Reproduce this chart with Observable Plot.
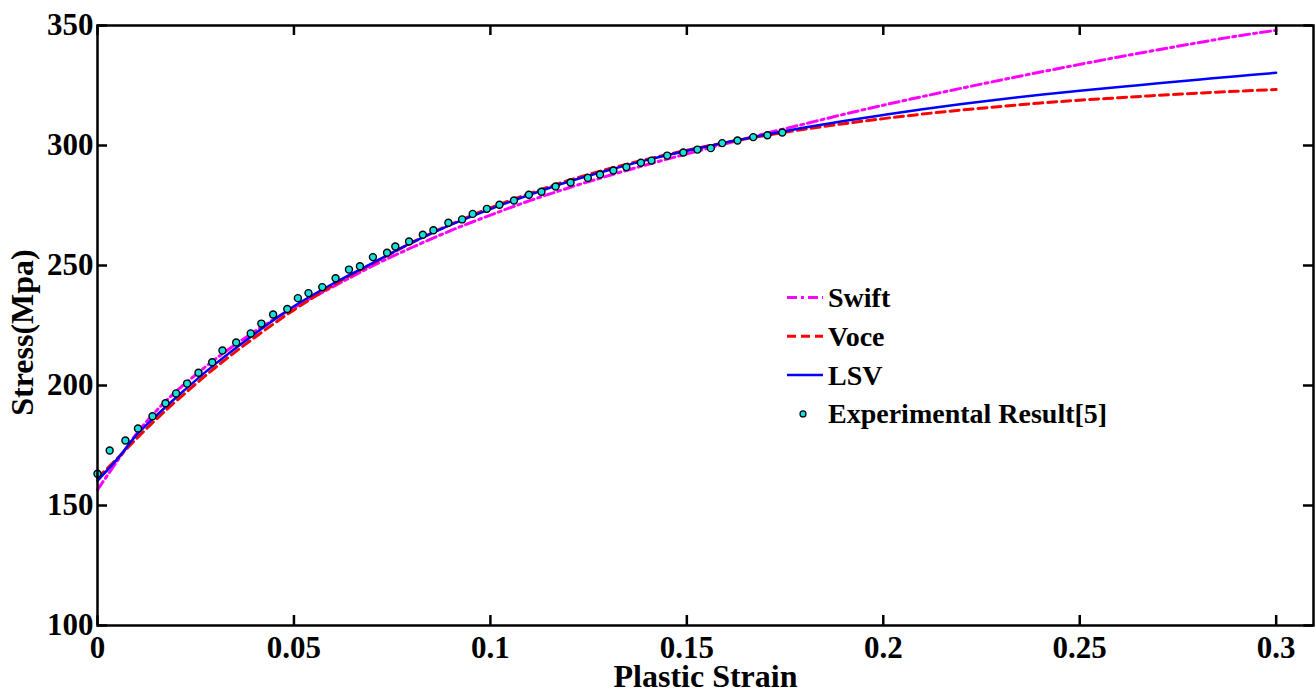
<!DOCTYPE html>
<html><head><meta charset="utf-8">
<script src="https://cdn.jsdelivr.net/npm/d3@7"></script>
<script src="https://cdn.jsdelivr.net/npm/@observablehq/plot@0.6"></script>
<style>
body{margin:0;background:#fff;}
#wrap{position:relative;width:1316px;height:691px;overflow:hidden;}
</style></head><body><div id="wrap"></div>
<script>
// ---- data ----
const curveStrain = [0, 0.005, 0.01, 0.015, 0.02, 0.03, 0.04, 0.05, 0.06, 0.07, 0.08, 0.09, 0.1, 0.11, 0.12, 0.13, 0.14, 0.15, 0.16, 0.17, 0.18, 0.19, 0.2, 0.21, 0.22, 0.23, 0.24, 0.25, 0.26, 0.27, 0.28, 0.29, 0.3];
const swiftStress = [156.5, 168.5, 180, 189.5, 197.5, 211, 222.5, 232.5, 241.2, 249.8, 257.5, 264.6, 271, 277, 282.4, 287.4, 292.1, 296.5, 300.8, 305, 309, 313, 316.8, 320.4, 323.9, 327.3, 330.6, 333.8, 336.9, 339.9, 342.8, 345.6, 348];
const voceStress = [161.5, 169.5, 178, 186, 193.5, 207.5, 220, 231.5, 241.8, 250.8, 259.5, 267.2, 274, 280, 285.5, 290.2, 294.3, 298, 301.3, 304.2, 306.8, 309.1, 311.2, 313.1, 314.8, 316.3, 317.7, 318.9, 319.9, 320.9, 321.8, 322.6, 323.3];
const lsvStress = [160.3, 169.3, 179.5, 187.5, 195, 209, 221.5, 233, 242.5, 251, 259.5, 267, 273.5, 279.5, 285, 289.7, 294, 297.8, 301.3, 304.5, 307.5, 310.2, 312.7, 315.1, 317.3, 319.3, 321.1, 322.8, 324.4, 325.9, 327.4, 328.9, 330.3];
const expStrain = [0, 0.0031, 0.0071, 0.0103, 0.014, 0.0173, 0.02, 0.0228, 0.0257, 0.0292, 0.0318, 0.0353, 0.039, 0.0417, 0.0447, 0.0483, 0.051, 0.0537, 0.0572, 0.0606, 0.064, 0.0668, 0.0701, 0.0737, 0.0758, 0.0793, 0.0828, 0.0855, 0.0893, 0.0928, 0.0955, 0.0991, 0.1023, 0.106, 0.1098, 0.113, 0.1166, 0.1204, 0.1248, 0.1279, 0.1313, 0.1346, 0.1383, 0.141, 0.145, 0.1491, 0.1527, 0.1561, 0.159, 0.1629, 0.1669, 0.1705, 0.1743];
const expStress = [163.2, 172.9, 177.1, 182.1, 187.2, 192.6, 196.7, 200.8, 205.3, 209.7, 214.6, 217.9, 221.7, 225.8, 229.6, 231.9, 236.4, 238.5, 241, 244.7, 248.3, 249.7, 253.5, 255.3, 257.9, 260, 262.8, 264.7, 267.8, 269.2, 271.5, 273.6, 275.3, 277.1, 279.5, 280.7, 282.9, 284.6, 286.5, 287.9, 289.6, 291, 292.8, 293.7, 295.8, 297.1, 298.3, 298.9, 301, 302.1, 303.5, 304.3, 305.4];
const xTicks = [0, 0.05, 0.1, 0.15, 0.2, 0.25, 0.3];
const xTickLabels = ["0", "0.05", "0.1", "0.15", "0.2", "0.25", "0.3"];
const yTicks = [100, 150, 200, 250, 300, 350];
const seriesNames = ["Swift", "Voce", "LSV", "Experimental Result[5]"];
const xTitle = "Plastic Strain";
const yTitle = "Stress(Mpa)";

// ---- layout ----
const W = 1316, H = 691, mL = 97, mR = 3, mT = 25, mB = 66;
const pw = W - mL - mR, ph = H - mT - mB;
const font = "'Liberation Serif','Times New Roman',serif";
const colors = {swift: "#ff00ff", voce: "#ff0000", lsv: "#0000ff", exp: "#19dede"};
const dashSwift = "10,4,3,4", dashVoce = "9,5";

const rows = ys => curveStrain.map((x, i) => ({x, y: ys[i]}));
const expRows = expStrain.map((x, i) => ({x, y: expStress[i]}));
const tickStyle = {stroke: "black", strokeWidth: 2.5};

const chart = Plot.plot({
  width: W, height: H,
  marginLeft: mL, marginRight: mR, marginTop: mT, marginBottom: mB,
  style: {fontFamily: font, fontWeight: "bold", background: "white", color: "black"},
  x: {domain: [0, 0.3095]},
  y: {domain: [100, 350]},
  marks: [
    Plot.line(rows(swiftStress), {x: "x", y: "y", stroke: colors.swift, strokeWidth: 3, strokeDasharray: dashSwift, curve: "catmull-rom"}),
    Plot.line(rows(voceStress), {x: "x", y: "y", stroke: colors.voce, strokeWidth: 3, strokeDasharray: dashVoce, curve: "catmull-rom"}),
    Plot.line(rows(lsvStress), {x: "x", y: "y", stroke: colors.lsv, strokeWidth: 2.5, curve: "catmull-rom"}),
    Plot.dot(expRows, {x: "x", y: "y", r: 3.5, fill: colors.exp, stroke: "black", strokeWidth: 1.4}),
    Plot.tickY(yTicks, {y: d => d, insetRight: pw - 10, ...tickStyle}),
    Plot.tickY(yTicks, {y: d => d, insetLeft: pw - 10, ...tickStyle}),
    Plot.tickX(xTicks, {x: d => d, insetTop: ph - 10, ...tickStyle}),
    Plot.tickX(xTicks, {x: d => d, insetBottom: ph - 10, ...tickStyle}),
    Plot.frame({stroke: "black", strokeWidth: 2.5}),
    Plot.axisX({ticks: xTicks, tickSize: 0, tickPadding: 10, tickFormat: d => xTickLabels[xTicks.indexOf(d)], fontSize: 31, fontWeight: "bold", label: null}),
    Plot.axisY({ticks: yTicks, tickSize: 0, tickPadding: 4, fontSize: 31, fontWeight: "bold", label: null}),
    Plot.text([xTitle], {text: d => d, frameAnchor: "bottom", dy: 51, fontSize: 32, fontWeight: "bold", lineAnchor: "middle", textAnchor: "middle", fill: "black"}),
    Plot.text([yTitle], {text: d => d, frameAnchor: "left", rotate: -90, dx: -75, dy: 7, fontSize: 32, fontWeight: "bold", lineAnchor: "middle", textAnchor: "middle", fill: "black"})
  ]
});
const wrap = document.getElementById("wrap");
wrap.appendChild(chart);

// ---- legend overlay ----
const leg = d3.select(wrap).append("svg")
  .attr("width", W).attr("height", H)
  .style("position", "absolute").style("left", "0px").style("top", "0px")
  .style("pointer-events", "none");
const legItems = [
  {name: seriesNames[0], kind: "line", color: colors.swift, dash: dashSwift, w: 3},
  {name: seriesNames[1], kind: "line", color: colors.voce, dash: dashVoce, w: 3},
  {name: seriesNames[2], kind: "line", color: colors.lsv, dash: null, w: 2.5},
  {name: seriesNames[3], kind: "dot", color: colors.exp}
];
const lx0 = 787, lx1 = 823, tx = 828, ry0 = 297.5, rstep = 38.8;
legItems.forEach((it, i) => {
  const cy = ry0 + i * rstep;
  if (it.kind === "line") {
    const ln = leg.append("line").attr("x1", lx0).attr("x2", lx1).attr("y1", cy).attr("y2", cy)
      .attr("stroke", it.color).attr("stroke-width", it.w);
    if (it.dash) ln.attr("stroke-dasharray", it.dash);
  } else {
    leg.append("circle").attr("cx", (lx0 + lx1) / 2 - 2).attr("cy", cy).attr("r", 3)
      .attr("fill", it.color).attr("stroke", "black").attr("stroke-width", 1.2);
  }
  leg.append("text").attr("x", tx).attr("y", cy + 9.5).text(it.name)
    .attr("font-family", font).attr("font-weight", "bold").attr("font-size", 28).attr("fill", "black");
});
</script></body></html>
